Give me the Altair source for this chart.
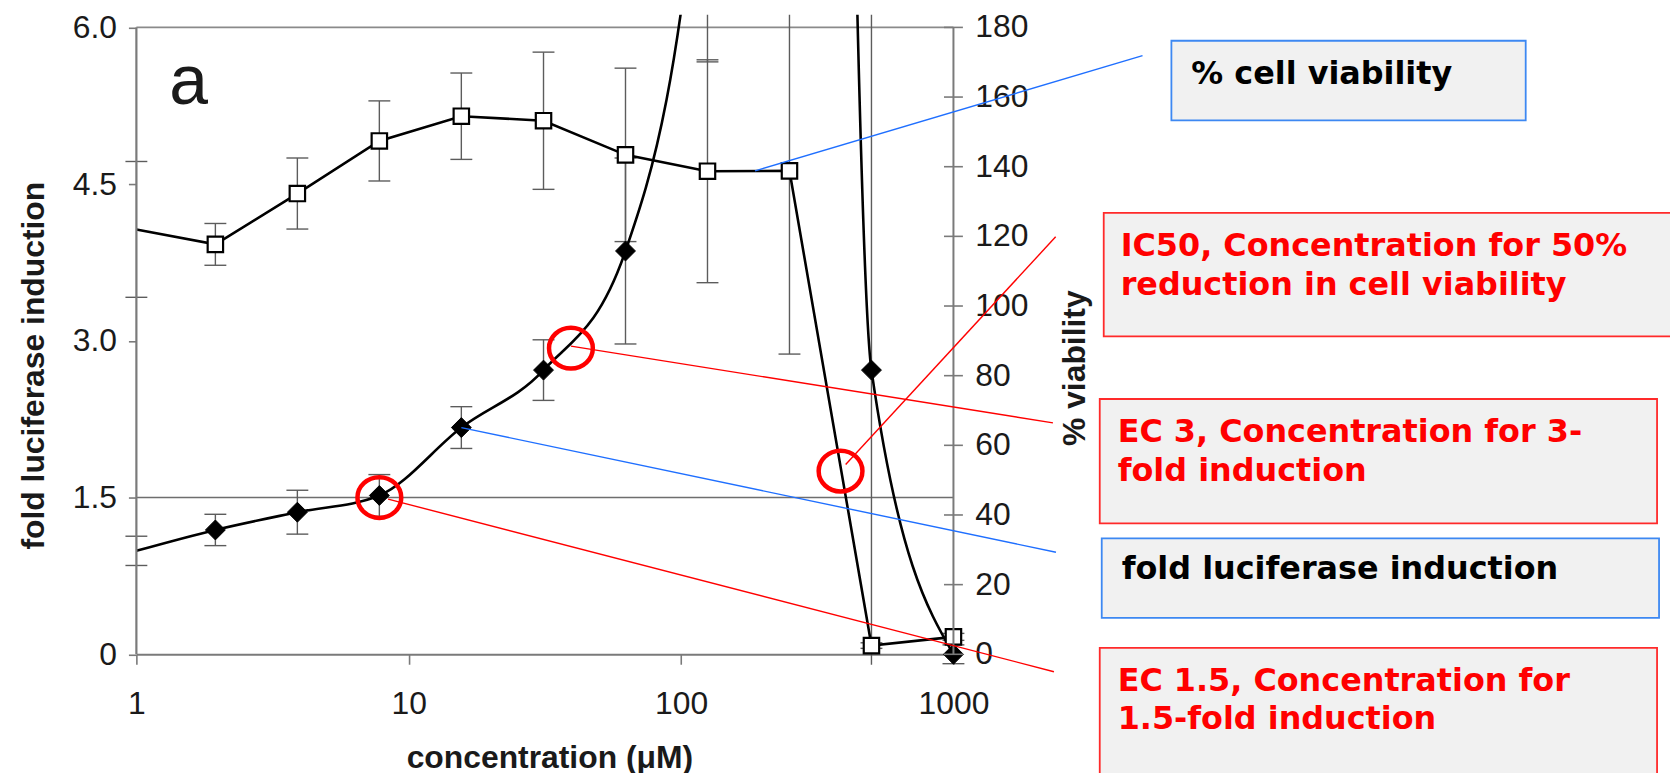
import altair as alt
import pandas as pd

# ---------------- data ----------------
concentration = [1, 1.95, 3.9, 7.8, 15.6, 31.25, 62.5, 125, 250, 500, 1000]
fold_induction = [0.99, 1.19, 1.36, 1.52, 2.17, 2.72, 3.86, 8.5, 38.0, 2.72, 0.0]
fold_error = [0.14, 0.15, 0.21, 0.20, 0.20, 0.29, 0.89, 2.83, 10.0, 3.6, 0.09]
viability_pct = [122.0, 117.7, 132.3, 147.4, 154.5, 153.2, 143.4, 138.7, 138.8, 2.5, 5.0]
viability_error = [19.5, 6.0, 10.2, 11.5, 12.4, 19.7, 24.9, 32.0, 52.6, 0.8, 1.0]

x_tick_values = [1, 10, 100, 1000]
fold_tick_values = [0, 1.5, 3.0, 4.5, 6.0]
viability_tick_values = [0, 20, 40, 60, 80, 100, 120, 140, 160, 180]
fold_axis_max = 6.0
viability_axis_max = 180
reference_fold = 1.5
panel_label = "a"

# highlighted points (red circles)
ec15_point = {"c": [7.8], "v": [1.5]}
ec3_point = {"c": [39.4], "v": [2.93]}
ic50_point = {"c": [385], "v": [52.6]}          # % viability

# callout anchors on the curves
ec15_anchor = {"c": [8.4], "v": [1.485]}
ec3_anchor = {"c": [39.4], "v": [2.95]}
fold_anchor = {"c": [15.6], "v": [2.17]}
viab_anchor = {"c": [186.8], "v": [138.8]}      # % viability
ic50_anchor = {"c": [402], "v": [54.5]}         # % viability

box_texts = [
    ["% cell viability"],
    ["IC50, Concentration for 50%", "reduction in cell viability"],
    ["EC 3, Concentration for 3-", "fold induction"],
    ["fold luciferase induction"],
    ["EC 1.5, Concentration for", "1.5-fold induction"],
]

# ---------------- layout / style (pixels relative to plot origin) -------------
W, H = 821, 653
BLUE_LINE = "#1f6fff"
BLUE_BORDER = "#3d88f2"
RED = "#ff0000"
RED_BORDER = "#ff2a2a"
BOX_FILL = "#f1f1f1"
AXIS_GRAY = "#7a7a7a"
ERR_GRAY = "#5c5c5c"
INK = "#1a1a1a"
LINE_W = 2.6
RATIO = viability_axis_max / fold_axis_max   # % per fold unit on the shared scale

box_layout = [  # x0, x1, y0, y1, border, text x, text y, text color
    (1040, 1396, 26, 106, BLUE_BORDER, 1060, 69, "black"),
    (972, 1553, 199, 323, RED_BORDER, 989, 242, RED),
    (968, 1528, 386, 511, RED_BORDER, 986, 429, RED),
    (970, 1530, 526, 606, BLUE_BORDER, 990, 567, "black"),
    (968, 1528, 636, 790, RED_BORDER, 986, 679, RED),
]
callout_ends = {
    "viab": (1011, 41),
    "ic50": (923.7, 223),
    "ec3": (921, 410),
    "fold": (924, 540),
    "ec15": (922, 660),
}

df = pd.DataFrame({
    "conc": concentration,
    "fold": fold_induction,
    "fold_err": fold_error,
    "pct": viability_pct,
    "pct_err": viability_error,
})

one = pd.DataFrame({"k": [0]})

Y_MIN, Y_MAX = -0.1, 6.12
xs = alt.Scale(type="log", domain=[1, 1000], nice=False)
ys = alt.Scale(domain=[Y_MIN, Y_MAX], nice=False, zero=False)

x_axis = alt.Axis(
    values=x_tick_values, format="d", grid=False, offset=-10.5,
    tickSize=10, tickColor=AXIS_GRAY, tickWidth=1.6,
    domainColor=AXIS_GRAY, domainWidth=2,
    labelFont="Liberation Sans", labelFontSize=32, labelColor=INK,
    labelBaseline="alphabetic", labelPadding=49, labelFlush=False,
    title="concentration (μM)", titleFont="Liberation Sans", titleFontSize=32,
    titleFontWeight="bold", titleColor=INK, titleX=415, titleY=114,
    titleAlign="center", titleBaseline="alphabetic", titleAngle=0,
)
left_axis = alt.Axis(
    orient="left", values=fold_tick_values, grid=False, domain=False,
    labelExpr="datum.value == 0 ? '0' : format(datum.value, '.1f')",
    tickSize=8, tickColor=AXIS_GRAY, tickWidth=1.6,
    labelFont="Liberation Sans", labelFontSize=32, labelColor=INK,
    labelBaseline="middle", labelPadding=12, labelFlush=False,
    title="fold luciferase induction", titleFont="Liberation Sans", titleFontSize=32,
    titleFontWeight="bold", titleColor=INK, titleAngle=270, titleX=-93, titleY=352,
    titleAlign="center", titleBaseline="alphabetic",
)

# every layer carries the same axis definitions so that they merge cleanly


def Xq(field):
    return alt.X(field, scale=xs, axis=x_axis)


def Yq(field):
    return alt.Y(field, scale=ys, axis=left_axis)


def Xd(value):
    return alt.XDatum(value, scale=xs, axis=x_axis)


def Yd(value):
    return alt.YDatum(value, scale=ys, axis=left_axis)


base = alt.Chart(df).transform_calculate(
    fold_lo="datum.fold - datum.fold_err",
    fold_hi="datum.fold + datum.fold_err",
    v="datum.pct / %f" % RATIO,
    v_lo="(datum.pct - datum.pct_err) / %f" % RATIO,
    v_hi="(datum.pct + datum.pct_err) / %f" % RATIO,
)
in_view = "datum.{f} >= %f && datum.{f} <= %f" % (Y_MIN, Y_MAX)

# ---------------- frame ----------------
frame_top = alt.Chart(one).mark_rule(color="#8a8a8a", strokeWidth=1.8).encode(
    x=Xd(1), x2=alt.X2Datum(1000), y=Yd(fold_axis_max))
frame_left = alt.Chart(one).mark_rule(color=AXIS_GRAY, strokeWidth=2.2).encode(
    x=Xd(1), y=Yd(0), y2=alt.Y2Datum(fold_axis_max))
frame_right = alt.Chart(one).mark_rule(color=AXIS_GRAY, strokeWidth=2).encode(
    x=Xd(1000), y=Yd(0), y2=alt.Y2Datum(fold_axis_max))
ref_line = alt.Chart(one).mark_rule(color="#6e6e6e", strokeWidth=1.6).encode(
    x=Xd(1), x2=alt.X2Datum(1000), y=Yd(reference_fold))

# right-hand % viability axis drawn on the same scale
rticks = alt.Chart(pd.DataFrame({"t": viability_tick_values})).transform_calculate(
    pos="datum.t / %f" % RATIO)
right_ticks = rticks.mark_tick(orient="horizontal", size=19, thickness=1.6,
                               color=AXIS_GRAY, opacity=1).encode(
    x=Xd(1000), y=Yq("pos:Q"))
right_labels = rticks.mark_text(align="left", baseline="middle", dx=22,
                                font="Liberation Sans", fontSize=32, color=INK).encode(
    x=Xd(1000), y=Yq("pos:Q"), text="t:Q")
right_title = alt.Chart(one).mark_text(
    text="% viability", angle=270, align="center", baseline="alphabetic",
    font="Liberation Sans", fontSize=32, fontWeight="bold", color=INK).encode(
    x=alt.value(953), y=alt.value(355))


# ---------------- error bars ----------------
def err_layers(lo, hi):
    rule = base.mark_rule(color=ERR_GRAY, strokeWidth=1.4, clip=True).encode(
        x=Xq("conc:Q"), y=Yq(lo + ":Q"), y2=hi + ":Q")
    cap_lo = base.transform_filter(in_view.format(f=lo)).mark_tick(
        orient="horizontal", size=22, thickness=1.4, color=ERR_GRAY, opacity=1).encode(
        x=Xq("conc:Q"), y=Yq(lo + ":Q"))
    cap_hi = base.transform_filter(in_view.format(f=hi)).mark_tick(
        orient="horizontal", size=22, thickness=1.4, color=ERR_GRAY, opacity=1).encode(
        x=Xq("conc:Q"), y=Yq(hi + ":Q"))
    return [rule, cap_lo, cap_hi]


fold_line = base.mark_line(color="black", strokeWidth=LINE_W, interpolate="monotone", clip=True).encode(
    x=Xq("conc:Q"), y=Yq("fold:Q"))
fold_pts = base.transform_filter("datum.conc > 1").mark_point(
    shape="diamond", filled=True, size=400, color="black", stroke="black",
    strokeWidth=1, opacity=1).encode(x=Xq("conc:Q"), y=Yq("fold:Q"))
pct_line = base.mark_line(color="black", strokeWidth=LINE_W, clip=True).encode(
    x=Xq("conc:Q"), y=Yq("v:Q"))
pct_pts = base.transform_filter("datum.conc > 1").mark_point(
    shape="square", filled=True, size=240, fill="white", stroke="black",
    strokeWidth=2.2, opacity=1).encode(x=Xq("conc:Q"), y=Yq("v:Q"))

# ---------------- callouts and circles ----------------
ELLIPSE = "M -1 0 A 1 0.93 0 1 0 1 0 A 1 0.93 0 1 0 -1 0 Z"


def callout(anchor, end, color, pct=False):
    ch = alt.Chart(pd.DataFrame(anchor))
    if pct:
        ch = ch.transform_calculate(v="datum.v / %f" % RATIO)
    return ch.mark_rule(color=color, strokeWidth=1.4).encode(
        x=Xq("c:Q"), y=Yq("v:Q"), x2=alt.value(end[0]), y2=alt.value(end[1]))


def ring(point, pct=False):
    ch = alt.Chart(pd.DataFrame(point))
    if pct:
        ch = ch.transform_calculate(v="datum.v / %f" % RATIO)
    return ch.mark_point(
        shape=ELLIPSE, size=1936, filled=False, stroke=RED, strokeWidth=4.5, opacity=1).encode(
        x=Xq("c:Q"), y=Yq("v:Q"))


notes = [
    callout(ec15_anchor, callout_ends["ec15"], RED),
    callout(ec3_anchor, callout_ends["ec3"], RED),
    callout(fold_anchor, callout_ends["fold"], BLUE_LINE),
    callout(viab_anchor, callout_ends["viab"], BLUE_LINE, pct=True),
    callout(ic50_anchor, callout_ends["ic50"], RED, pct=True),
    ring(ec15_point),
    ring(ec3_point),
    ring(ic50_point, pct=True),
]

# ---------------- annotation boxes ----------------
boxes = []
for (x0, x1, y0, y1, border, tx, ty, tcol), lines in zip(box_layout, box_texts):
    boxes.append(alt.Chart(one).mark_rect(
        fill=BOX_FILL, stroke=border, strokeWidth=1.8).encode(
        x=alt.value(x0), x2=alt.value(x1), y=alt.value(y0), y2=alt.value(y1)))
    boxes.append(alt.Chart(one).mark_text(
        text=lines, align="left", baseline="alphabetic", font="DejaVu Sans",
        fontWeight="bold", fontSize=32, lineHeight=39, color=tcol).encode(
        x=alt.value(tx), y=alt.value(ty)))
boxes.append(alt.Chart(one).mark_text(
    text=panel_label, align="left", baseline="alphabetic", font="Liberation Sans",
    fontSize=70, color=INK).encode(x=alt.value(33), y=alt.value(90)))

layers = (
    [ref_line, frame_top]
    + err_layers("fold_lo", "fold_hi")
    + err_layers("v_lo", "v_hi")
    + [fold_line, pct_line, fold_pts, pct_pts, frame_left, frame_right,
       right_ticks, right_labels, right_title]
    + notes + boxes
)

chart = alt.layer(*layers).properties(
    width=W, height=H,
    padding={"left": 129, "top": 5, "right": 720, "bottom": 130},
    autosize=alt.AutoSizeParams(type="none"),
    background="white",
).configure_view(stroke=None)

chart.save("out.html", embed_options={"renderer": "svg", "actions": False})
